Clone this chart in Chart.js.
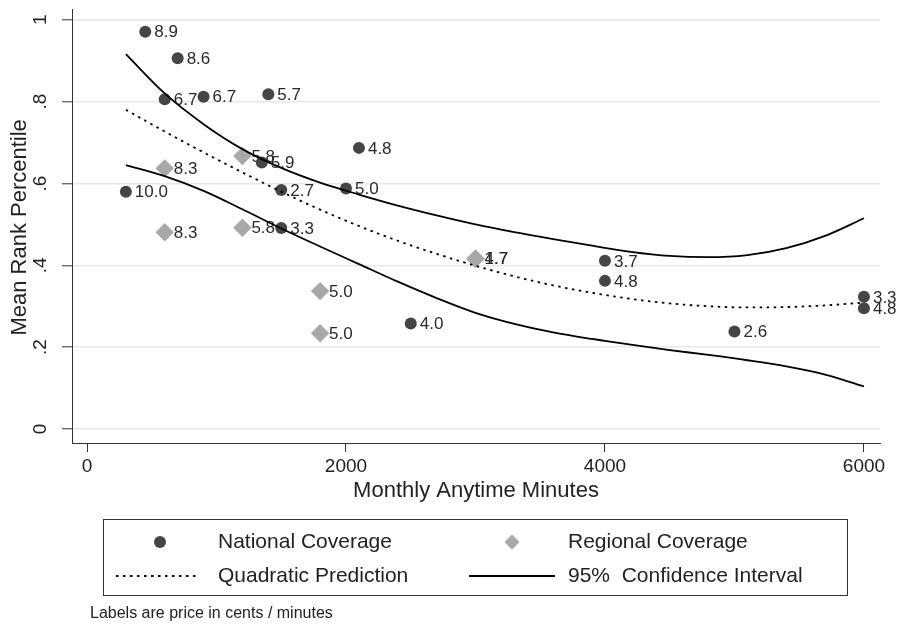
<!DOCTYPE html>
<html>
<head>
<meta charset="utf-8">
<script src="https://cdn.jsdelivr.net/npm/chart.js@4.4.1/dist/chart.umd.min.js"></script>
<style>
html,body{margin:0;padding:0;background:#fff;}
#wrap{width:905px;height:626px;position:relative;}
</style>
</head>
<body>
<div id="wrap"><canvas id="c" width="905" height="626"></canvas></div>
<script>
// ---- data ----
const nationalX = [450, 700, 600, 900, 1400, 2100, 1350, 300, 1500, 2000, 1500, 2500, 4000, 4000, 5000, 6000, 6000];
const nationalY = [0.971, 0.906, 0.806, 0.812, 0.818, 0.687, 0.651, 0.580, 0.584, 0.588, 0.491, 0.258, 0.411, 0.362, 0.238, 0.323, 0.295];
const nationalLabels = ["8.9", "8.6", "6.7", "6.7", "5.7", "4.8", "5.9", "10.0", "2.7", "5.0", "3.3", "4.0", "3.7", "4.8", "2.6", "3.3", "4.8"];

const regionalX = [1200, 600, 600, 1200, 1800, 1800, 3000, 3000];
const regionalY = [0.667, 0.637, 0.481, 0.492, 0.337, 0.234, 0.416, 0.416];
const regionalLabels = ["5.8", "8.3", "8.3", "5.8", "5.0", "5.0", "1.7", "4.7"];

const fitX = [300, 600, 900, 1200, 1500, 1800, 2100, 2400, 2700, 3000, 3300, 3600, 3900, 4200, 4500, 4800, 5100, 5400, 5700, 6000];
const quadPred = [0.780, 0.727, 0.676, 0.627, 0.580, 0.536, 0.496, 0.460, 0.428, 0.399, 0.373, 0.351, 0.333, 0.318, 0.307, 0.300, 0.297, 0.298, 0.302, 0.309];
const ciUpper = [0.916, 0.820, 0.745, 0.684, 0.638, 0.602, 0.573, 0.546, 0.522, 0.500, 0.481, 0.464, 0.448, 0.433, 0.423, 0.420, 0.425, 0.442, 0.472, 0.515];
const ciLower = [0.645, 0.618, 0.582, 0.537, 0.490, 0.446, 0.403, 0.360, 0.320, 0.284, 0.257, 0.236, 0.220, 0.206, 0.193, 0.181, 0.168, 0.153, 0.133, 0.104];

const xTickValues = [0, 2000, 4000, 6000];
const xTickLabels = ["0", "2000", "4000", "6000"];
const yTickValues = [0, 0.2, 0.4, 0.6, 0.8, 1];
const yTickLabels = ["0", ".2", ".4", ".6", ".8", "1"];

const xTitle = "Monthly Anytime Minutes";
const yTitle = "Mean Rank Percentile";
const legendNames = ["National Coverage", "Regional Coverage", "Quadratic Prediction", "95%  Confidence Interval"];
const noteText = "Labels are price in cents / minutes";

// ---- styling ----
const FONT = "'Liberation Sans', Arial, Helvetica, sans-serif";
const NAT_COLOR = '#454545';
const REG_COLOR = '#a8a8a8';
const TEXT_COLOR = '#222';

const pts = (xs, ys) => xs.map((x, i) => ({x: x, y: ys[i]}));

const drawPlugin = {
  id: 'stataDecor',
  afterDatasetDraw(chart, args) {
    const ds = chart.data.datasets[args.index];
    if (!ds.pointLabels) return;
    const ctx = chart.ctx;
    ctx.save();
    ctx.font = '17px ' + FONT;
    ctx.fillStyle = '#2a2a2a';
    ctx.textAlign = 'left';
    ctx.textBaseline = 'middle';
    args.meta.data.forEach((el, i) => {
      ctx.fillText(ds.pointLabels[i], el.x + 9, el.y + 1);
    });
    ctx.restore();
  },
  afterDraw(chart) {
    const ctx = chart.ctx, xs = chart.scales.x, ys = chart.scales.y, ca = chart.chartArea;
    ctx.save();
    ctx.fillStyle = TEXT_COLOR;
    ctx.textAlign = 'center';
    ctx.textBaseline = 'middle';
    // y tick labels (rotated)
    ctx.font = '19px ' + FONT;
    yTickValues.forEach((v, i) => {
      const py = ys.getPixelForValue(v);
      ctx.save();
      ctx.translate(41, py);
      ctx.rotate(-Math.PI / 2);
      ctx.fillText(yTickLabels[i], 0, 0);
      ctx.restore();
    });
    // x tick labels
    xTickValues.forEach((v, i) => {
      ctx.fillText(xTickLabels[i], xs.getPixelForValue(v), 467);
    });
    // axis titles
    ctx.font = '22px ' + FONT;
    ctx.fillText(xTitle, (ca.left + ca.right) / 2, 491);
    ctx.save();
    ctx.translate(20, (ys.getPixelForValue(0) + ys.getPixelForValue(1)) / 2 + 3);
    ctx.rotate(-Math.PI / 2);
    ctx.fillText(yTitle, 0, 0);
    ctx.restore();

    // legend box
    ctx.strokeStyle = '#333';
    ctx.lineWidth = 1;
    ctx.strokeRect(103.5, 519.5, 744, 76);
    const r1 = 542, r2 = 576;
    // national marker
    ctx.fillStyle = NAT_COLOR;
    ctx.beginPath(); ctx.arc(160, r1, 6, 0, Math.PI * 2); ctx.fill();
    // regional marker
    ctx.fillStyle = REG_COLOR;
    ctx.beginPath();
    ctx.moveTo(512, r1 - 7.5); ctx.lineTo(519.5, r1); ctx.lineTo(512, r1 + 7.5); ctx.lineTo(504.5, r1);
    ctx.closePath(); ctx.fill();
    // dotted sample
    ctx.strokeStyle = '#000';
    ctx.lineWidth = 1.8;
    ctx.setLineDash([2.5, 4.5]);
    ctx.beginPath(); ctx.moveTo(116, r2); ctx.lineTo(200, r2); ctx.stroke();
    ctx.setLineDash([]);
    ctx.beginPath(); ctx.moveTo(469, r2); ctx.lineTo(555, r2); ctx.stroke();
    // legend texts
    ctx.fillStyle = TEXT_COLOR;
    ctx.font = '21px ' + FONT;
    ctx.textAlign = 'left';
    ctx.fillText(legendNames[0], 218, r1);
    ctx.fillText(legendNames[1], 568, r1);
    ctx.fillText(legendNames[2], 218, r2);
    ctx.fillText(legendNames[3], 568, r2);
    // note
    ctx.font = '16px ' + FONT;
    ctx.fillText(noteText, 90, 614);
    ctx.restore();
  }
};

new Chart(document.getElementById('c'), {
  type: 'scatter',
  data: {
    datasets: [
      { type: 'line', label: '95% CI upper', data: pts(fitX, ciUpper), borderColor: '#000', borderWidth: 1.8,
        pointRadius: 0, cubicInterpolationMode: 'monotone', fill: false },
      { type: 'line', label: '95% CI lower', data: pts(fitX, ciLower), borderColor: '#000', borderWidth: 1.8,
        pointRadius: 0, cubicInterpolationMode: 'monotone', fill: false },
      { type: 'line', label: 'Quadratic Prediction', data: pts(fitX, quadPred), borderColor: '#000', borderWidth: 1.8,
        borderDash: [2.5, 4.5], pointRadius: 0, cubicInterpolationMode: 'monotone', fill: false },
      { label: 'National Coverage', data: pts(nationalX, nationalY), pointStyle: 'circle', pointRadius: 6,
        backgroundColor: NAT_COLOR, borderWidth: 0, pointLabels: nationalLabels },
      { label: 'Regional Coverage', data: pts(regionalX, regionalY), pointStyle: 'rectRot', pointRadius: 9.2,
        backgroundColor: REG_COLOR, borderWidth: 0, pointLabels: regionalLabels }
    ]
  },
  options: {
    responsive: false,
    animation: false,
    devicePixelRatio: 1,
    layout: { padding: { left: 0, top: 5, right: 25, bottom: 123 } },
    plugins: { legend: { display: false }, tooltip: { enabled: false } },
    scales: {
      x: {
        type: 'linear', min: -116, max: 6124,
        afterBuildTicks: s => { s.ticks = xTickValues.map(v => ({ value: v })); },
        afterFit: s => { s.height = 60; },
        ticks: { display: false },
        grid: { drawOnChartArea: false, drawTicks: true, tickLength: 9, tickColor: '#333', tickWidth: 1 },
        border: { display: true, color: '#333', width: 1 }
      },
      y: {
        type: 'linear', min: -0.0342, max: 1.0259,
        afterBuildTicks: s => { s.ticks = yTickValues.map(v => ({ value: v })); },
        afterFit: s => { s.width = 72; },
        ticks: { display: false },
        grid: { color: '#e8e8e8', lineWidth: 1.6, drawTicks: true, tickLength: 10, tickColor: '#333', tickWidth: 1 },
        border: { display: true, color: '#333', width: 1 }
      }
    }
  },
  plugins: [drawPlugin]
});
</script>
</body>
</html>
